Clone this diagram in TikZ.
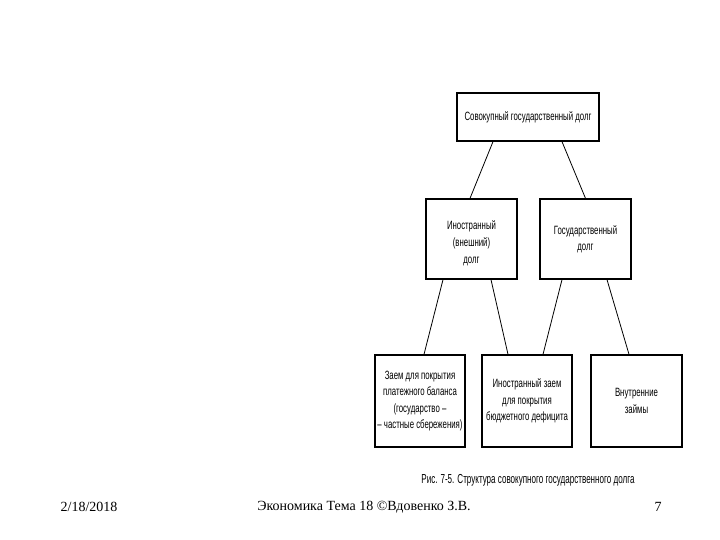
\documentclass[tikz,border=0pt]{standalone}
\usepackage{fontspec}
\setmainfont{Liberation Serif}
\newfontfamily\narrowsans[FakeStretch=0.65]{Liberation Sans}
\newfontfamily\capsans[FakeStretch=0.62]{Liberation Sans}
\begin{document}
\begin{tikzpicture}[x=1bp,y=-1bp,
  box/.style={draw=black,line width=1.3bp,rectangle,inner sep=0pt,align=center,
    font=\narrowsans\fontsize{12bp}{16.5bp}\selectfont},
  conn/.style={draw=black,line width=0.8bp}]
\useasboundingbox (0,0) rectangle (720,540);
\node[box,minimum width=142bp,minimum height=48bp] (top) at (528,117) {Совокупный государственный долг};
\node[box,minimum width=91bp,minimum height=80bp] (ml) at (471.5,239) {};
\node[box,draw=none,font=\narrowsans\fontsize{12bp}{17bp}\selectfont] (mltext) at (471.5,243) {Иностранный\\(внешний)\\долг};
\node[box,minimum width=91bp,minimum height=80bp] (mr) at (585.5,239) {Государственный\\долг};
\node[box,minimum width=90bp,minimum height=92bp] (bl) at (420,401) {Заем для покрытия\\платежного баланса\\(государство –\\– частные сбережения)};
\node[box,minimum width=90bp,minimum height=92bp] (bm) at (527,401) {Иностранный заем\\для покрытия\\бюджетного дефицита};
\node[box,minimum width=91bp,minimum height=92bp] (br) at (636.5,401) {Внутренние\\займы};
\draw[conn] ([xshift=-35bp]top.south) -- ([xshift=-1.5bp]ml.north);
\draw[conn] ([xshift=34bp]top.south) -- (mr.north);
\draw[conn] ([xshift=-28.5bp]ml.south) -- ([xshift=4bp]bl.north);
\draw[conn] ([xshift=19.5bp]ml.south) -- ([xshift=-19bp]bm.north);
\draw[conn] ([xshift=-23.5bp]mr.south) -- ([xshift=16bp]bm.north);
\draw[conn] ([xshift=21.5bp]mr.south) -- ([xshift=-7.5bp]br.north);
\node[font=\capsans\fontsize{13bp}{15bp}\selectfont,inner sep=0pt] (cap) at (528,480) {Рис. 7-5. Структура совокупного государственного долга};
\node[font=\fontsize{14bp}{16bp}\selectfont,inner sep=0pt] (date) at (89,507) {2/18/2018};
\node[font=\fontsize{14bp}{16bp}\selectfont,inner sep=0pt] (foot) at (364,507) {Экономика Тема 18 ©Вдовенко З.В.};
\node[font=\fontsize{14bp}{16bp}\selectfont,inner sep=0pt] (num) at (658,507) {7};
\end{tikzpicture}
\end{document}
